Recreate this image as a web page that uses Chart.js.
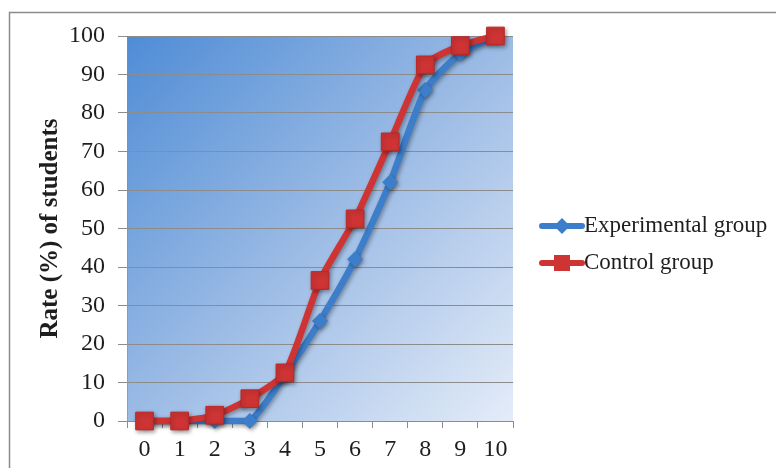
<!DOCTYPE html>
<html>
<head>
<meta charset="utf-8">
<script src="https://cdn.jsdelivr.net/npm/chart.js@4.4.1/dist/chart.umd.min.js"></script>
<style>
  html, body { margin: 0; padding: 0; background: #fff; }
  #wrap { width: 776px; height: 468px; }
</style>
</head>
<body>
<div id="wrap"><canvas id="rateChart" width="776" height="468"></canvas></div>
<script>
// Scores and cumulative rates per group
const scores = ['0', '1', '2', '3', '4', '5', '6', '7', '8', '9', '10'];
const experimentalRates = [0, 0, 0, 0, 12, 26, 42, 62, 86, 95.5, 100];
const controlRates = [0, 0, 1.5, 5.8, 12.5, 36.5, 52.5, 72.5, 92.5, 97.5, 100];
const seriesNames = ['Experimental group', 'Control group'];

const blue = '#3d7ecb';
const red = '#cf3434';
const serif = "'Liberation Serif', 'Times New Roman', serif";

// Outer frame and gradient plot background
const backgroundPlugin = {
    id: 'background',
    beforeDraw(chart) {
        const ctx = chart.ctx;
        const a = chart.chartArea;
        ctx.save();
        ctx.strokeStyle = '#8c8c8c';
        ctx.lineWidth = 1.5;
        ctx.strokeRect(9.5, 12.5, 900, 600);
        const grad = ctx.createLinearGradient(a.left, a.top, a.right, a.bottom);
        grad.addColorStop(0, '#4f8cd6');
        grad.addColorStop(0.5, '#9bbbe5');
        grad.addColorStop(1, '#e4ecf8');
        ctx.fillStyle = grad;
        ctx.fillRect(a.left, a.top, a.right - a.left, a.bottom - a.top);
        ctx.restore();
    }
};

// Soft shadow under the lines and markers
const shadowPlugin = {
    id: 'shadow',
    beforeDatasetsDraw(chart) {
        const ctx = chart.ctx;
        ctx.save();
        ctx.shadowColor = 'rgba(0,0,0,0.35)';
        ctx.shadowBlur = 4;
        ctx.shadowOffsetX = 1.5;
        ctx.shadowOffsetY = 2;
    },
    afterDatasetsDraw(chart) {
        chart.ctx.restore();
    }
};

// Legend with a line sample and marker, to the right of the plot
const lineLegendPlugin = {
    id: 'lineLegend',
    afterDraw(chart) {
        const ctx = chart.ctx;
        const x0 = 542, x1 = 582;
        const rows = [226, 263];
        ctx.save();
        chart.data.datasets.forEach((ds, i) => {
            const y = rows[i];
            ctx.strokeStyle = ds.borderColor;
            ctx.lineWidth = 6;
            ctx.lineCap = 'round';
            ctx.beginPath();
            ctx.moveTo(x0, y);
            ctx.lineTo(x1, y);
            ctx.stroke();
            ctx.fillStyle = ds.pointBackgroundColor;
            const mx = (x0 + x1) / 2;
            if (ds.pointStyle === 'rectRot') {
                ctx.beginPath();
                ctx.moveTo(mx, y - 8);
                ctx.lineTo(mx + 8, y);
                ctx.lineTo(mx, y + 8);
                ctx.lineTo(mx - 8, y);
                ctx.closePath();
                ctx.fill();
            } else {
                ctx.fillRect(mx - 8, y - 8, 16, 16);
            }
            ctx.fillStyle = '#1e1e1e';
            ctx.font = '23px ' + serif;
            ctx.textBaseline = 'middle';
            ctx.textAlign = 'left';
            ctx.fillText(ds.label, x1 + 2, y);
        });
        ctx.restore();
    }
};

const ctx = document.getElementById('rateChart').getContext('2d');
new Chart(ctx, {
    type: 'line',
    data: {
        labels: scores,
        datasets: [
            {
                label: seriesNames[0],
                data: experimentalRates,
                borderColor: blue,
                backgroundColor: blue,
                pointBackgroundColor: blue,
                pointBorderColor: blue,
                pointStyle: 'rectRot',
                pointRadius: 8,
                pointBorderWidth: 0,
                borderWidth: 6.5,
                tension: 0.2,
                clip: false,
                order: 1
            },
            {
                label: seriesNames[1],
                data: controlRates,
                borderColor: red,
                backgroundColor: red,
                pointBackgroundColor: red,
                pointBorderColor: '#b82828',
                pointStyle: 'rect',
                pointRadius: 12.5,
                pointBorderWidth: 1,
                borderWidth: 6.5,
                tension: 0.2,
                clip: false,
                order: 0
            }
        ]
    },
    options: {
        responsive: false,
        animation: false,
        layout: { padding: { top: 36, right: 263, bottom: 0, left: 0 } },
        plugins: {
            legend: { display: false },
            tooltip: { enabled: false }
        },
        scales: {
            x: {
                type: 'category',
                offset: true,
                grid: {
                    offset: true,
                    drawOnChartArea: false,
                    drawTicks: true,
                    tickLength: 7,
                    color: '#8c8c8c'
                },
                border: { display: true, color: '#8c8c8c' },
                ticks: {
                    color: '#1e1e1e',
                    padding: 7,
                    maxRotation: 0,
                    font: { family: serif, size: 24 }
                },
                afterFit(scale) { scale.height = 47; }
            },
            y: {
                min: 0,
                max: 100,
                ticks: {
                    stepSize: 10,
                    color: '#1e1e1e',
                    padding: 13,
                    font: { family: serif, size: 24 }
                },
                grid: {
                    color: '#8c8c8c',
                    tickLength: 9,
                    drawTicks: true
                },
                border: { display: true, color: 'rgba(140,140,140,0.6)' },
                title: {
                    display: true,
                    text: 'Rate (%) of students',
                    color: '#1e1e1e',
                    padding: { top: 36, bottom: 0 },
                    font: { family: serif, size: 25, weight: 'bold' }
                },
                afterFit(scale) { scale.width = 127; }
            }
        }
    },
    plugins: [backgroundPlugin, shadowPlugin, lineLegendPlugin]
});
</script>
</body>
</html>
